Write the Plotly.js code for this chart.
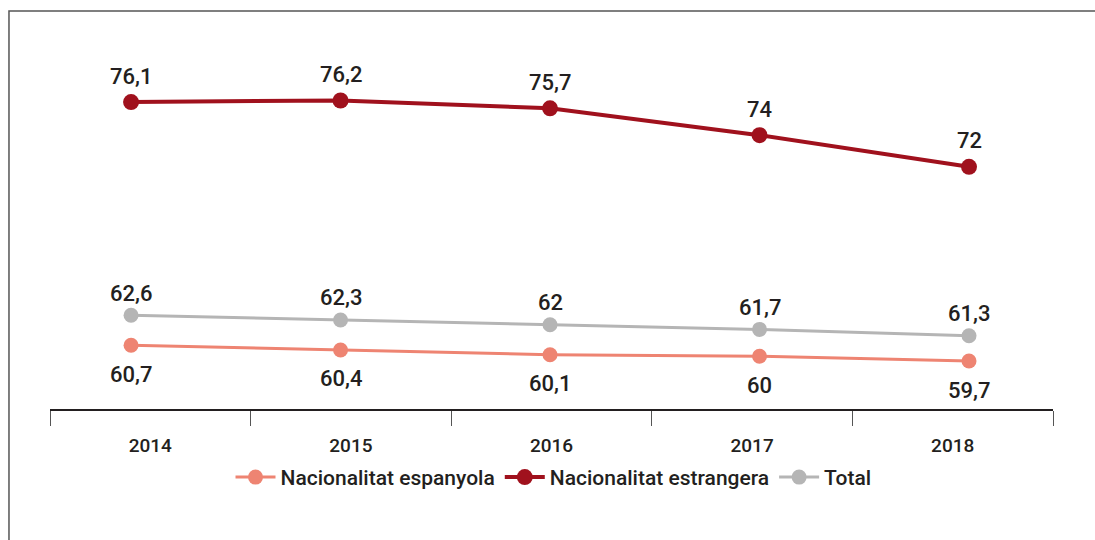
<!DOCTYPE html>
<html>
<head>
<meta charset="utf-8">
<script src="https://cdn.plot.ly/plotly-3.0.1.min.js"></script>
<style>
  html, body { margin: 0; padding: 0; background: #fff; }
  #chart { width: 1095px; height: 540px; }
</style>
</head>
<body>
<div id="chart"></div>
<script>
// ---- data ----
const years = ["2014", "2015", "2016", "2017", "2018"];
const espanyola = [60.7, 60.4, 60.1, 60, 59.7];
const estrangera = [76.1, 76.2, 75.7, 74, 72];
const total = [62.6, 62.3, 62, 61.7, 61.3];
const seriesNames = ["Nacionalitat espanyola", "Nacionalitat estrangera", "Total"];

const fmt = v => String(v).replace(".", ",");
const idx = years.map((_, i) => i);
const FONT = "Roboto, 'DejaVu Sans', sans-serif";
const TXT = "#231f20";

const colors = ["#EE8472", "#A0111D", "#B5B5B5"];
const seriesData = [espanyola, estrangera, total];
const lineW = [3, 4, 3];
const markS = [15, 16, 15];
const labelShift = [-29, 26, 22];

const traces = seriesData.map((vals, k) => ({
  x: idx, y: vals, name: seriesNames[k], type: "scatter", mode: "lines+markers",
  line: { color: colors[k], width: lineW[k] },
  marker: { color: colors[k], size: markS[k] },
  cliponaxis: false
}));
// dummy trace so the category axis (x2) is drawn
traces.push({ x: [], y: [], xaxis: "x2", yaxis: "y", type: "scatter", mode: "markers", showlegend: false, hoverinfo: "skip" });

const annotations = [];
seriesData.forEach((vals, k) => {
  vals.forEach((v, i) => {
    annotations.push({
      x: i, y: v, xref: "x", yref: "y", text: fmt(v), showarrow: false,
      yshift: labelShift[k], xanchor: "center", yanchor: "middle",
      font: { family: FONT, size: 22, color: TXT, weight: 500 }
    });
  });
});

const bandEdges = years.map((_, i) => i).concat([years.length]);
const bandCenters = years.map((_, i) => i + 0.5);

const layout = {
  width: 1095, height: 540,
  margin: { l: 50, r: 42, t: 40, b: 131 },
  paper_bgcolor: "#fff", plot_bgcolor: "#fff",
  font: { family: FONT, color: TXT },
  showlegend: true,
  legend: {
    orientation: "h", x: 0.502, xanchor: "center", y: -0.13, yanchor: "top",
    font: { family: FONT, size: 21, color: TXT, weight: 500 },
    traceorder: "normal", itemwidth: 40
  },
  xaxis: {
    range: [-0.387, 4.401], visible: false, fixedrange: true
  },
  xaxis2: {
    overlaying: "x", anchor: "y", side: "bottom",
    range: [0, years.length], fixedrange: true,
    showgrid: false, zeroline: false,
    showline: true, linecolor: TXT, linewidth: 2,
    tickmode: "array", tickvals: bandCenters, ticktext: years,
    ticks: "", ticklabelstandoff: 18,
    tickfont: { family: FONT, size: 19, color: TXT, weight: 500 },
    minor: {
      tickmode: "array", tickvals: bandEdges,
      ticks: "outside", ticklen: 15, tickwidth: 1, tickcolor: "#555"
    }
  },
  yaxis: {
    range: [56.66, 80.03], visible: false, fixedrange: true
  },
  annotations: annotations,
  shapes: [
    {
      type: "rect", xref: "paper", yref: "paper",
      x0: -0.0409, x1: 1.2, y0: -0.6, y1: 1.0786,
      line: { color: "#555", width: 1.5 }, fillcolor: "rgba(0,0,0,0)", layer: "below"
    }
  ]
};

Plotly.newPlot("chart", traces, layout, { displayModeBar: false, staticPlot: true });
</script>
</body>
</html>
